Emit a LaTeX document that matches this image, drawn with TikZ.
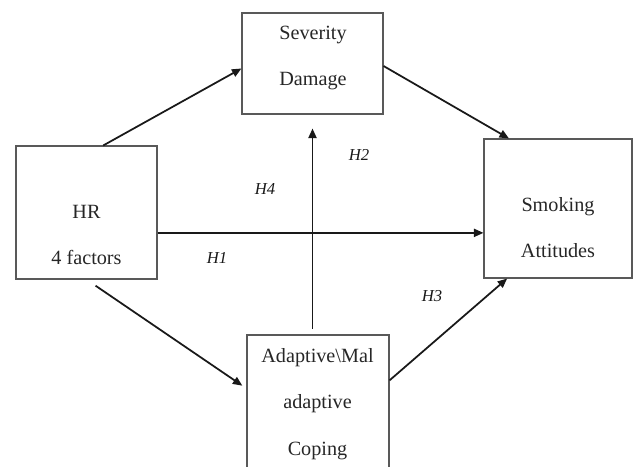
\documentclass[tikz,border=0pt]{standalone}
\usepackage{fontspec}
\setmainfont{Liberation Serif}
\usetikzlibrary{arrows.meta}

\begin{document}
\begin{tikzpicture}[
        x=0.02cm, y=-0.02cm,
        box/.style={draw=black!65, line width=0.6pt, inner sep=0pt},
        txt/.style={font=\fontsize{11.5}{14}\selectfont, text=black!85, inner sep=0pt, anchor=base},
        hyp/.style={font=\fontsize{9.5}{11}\selectfont\itshape, text=black!90, inner sep=0pt},
        arr/.style={-{Triangle[length=1.9mm, width=1.6mm]}, line width=1pt, draw=black!90}
    ]

        \clip (0,0) rectangle (633,467);

        \node[box, minimum width=2.82cm, minimum height=2.02cm] (sev) at (312.5, 63.5) {};
        \node[txt] (sev_1) at (313, 39) {Severity};
        \node[txt] (sev_2) at (313, 85) {Damage};

        \node[box, minimum width=2.82cm, minimum height=2.66cm] (hr) at (86.5, 212.5) {};
        \node[txt] (hr_1) at (86.5, 218) {HR};
        \node[txt] (hr_2) at (86.5, 264) {4 factors};

        \node[box, minimum width=2.96cm, minimum height=2.78cm] (smk) at (558, 208.5) {};
        \node[txt] (smk_1) at (558, 211) {Smoking};
        \node[txt] (smk_2) at (558, 257) {Attitudes};

        \node[box, minimum width=2.84cm, minimum height=2.80cm] (cop) at (318, 405) {};
        \node[txt] (cop_1) at (317.5, 362) {Adaptive\textbackslash Mal};
        \node[txt] (cop_2) at (317.5, 408) {adaptive};
        \node[txt] (cop_3) at (317.5, 455) {Coping};

        \draw[arr] (hr.76) -- (sev.184.5);
        \draw[arr] (sev.358.8) -- (smk.125.7);
        \draw[arr] (hr.344.5) -- (hr.344.5 -| smk.west);
        \draw[arr, shorten <=0.22cm, shorten >=0.1cm] (hr.south) -- (cop.167.1);
        \draw[arr, shorten <=0.11cm, shorten >=0.28cm] (cop.north -| sev.south) -- (sev.south);
        \draw[arr] (cop.19.4) -- (smk.234.8);

        \node[hyp] (h4) at (265, 189) {H4};
        \node[hyp] (h2) at (359, 155) {H2};
        \node[hyp] (h1) at (217, 258) {H1};
        \node[hyp] (h3) at (432, 296) {H3};
    \end{tikzpicture}
\end{document}
